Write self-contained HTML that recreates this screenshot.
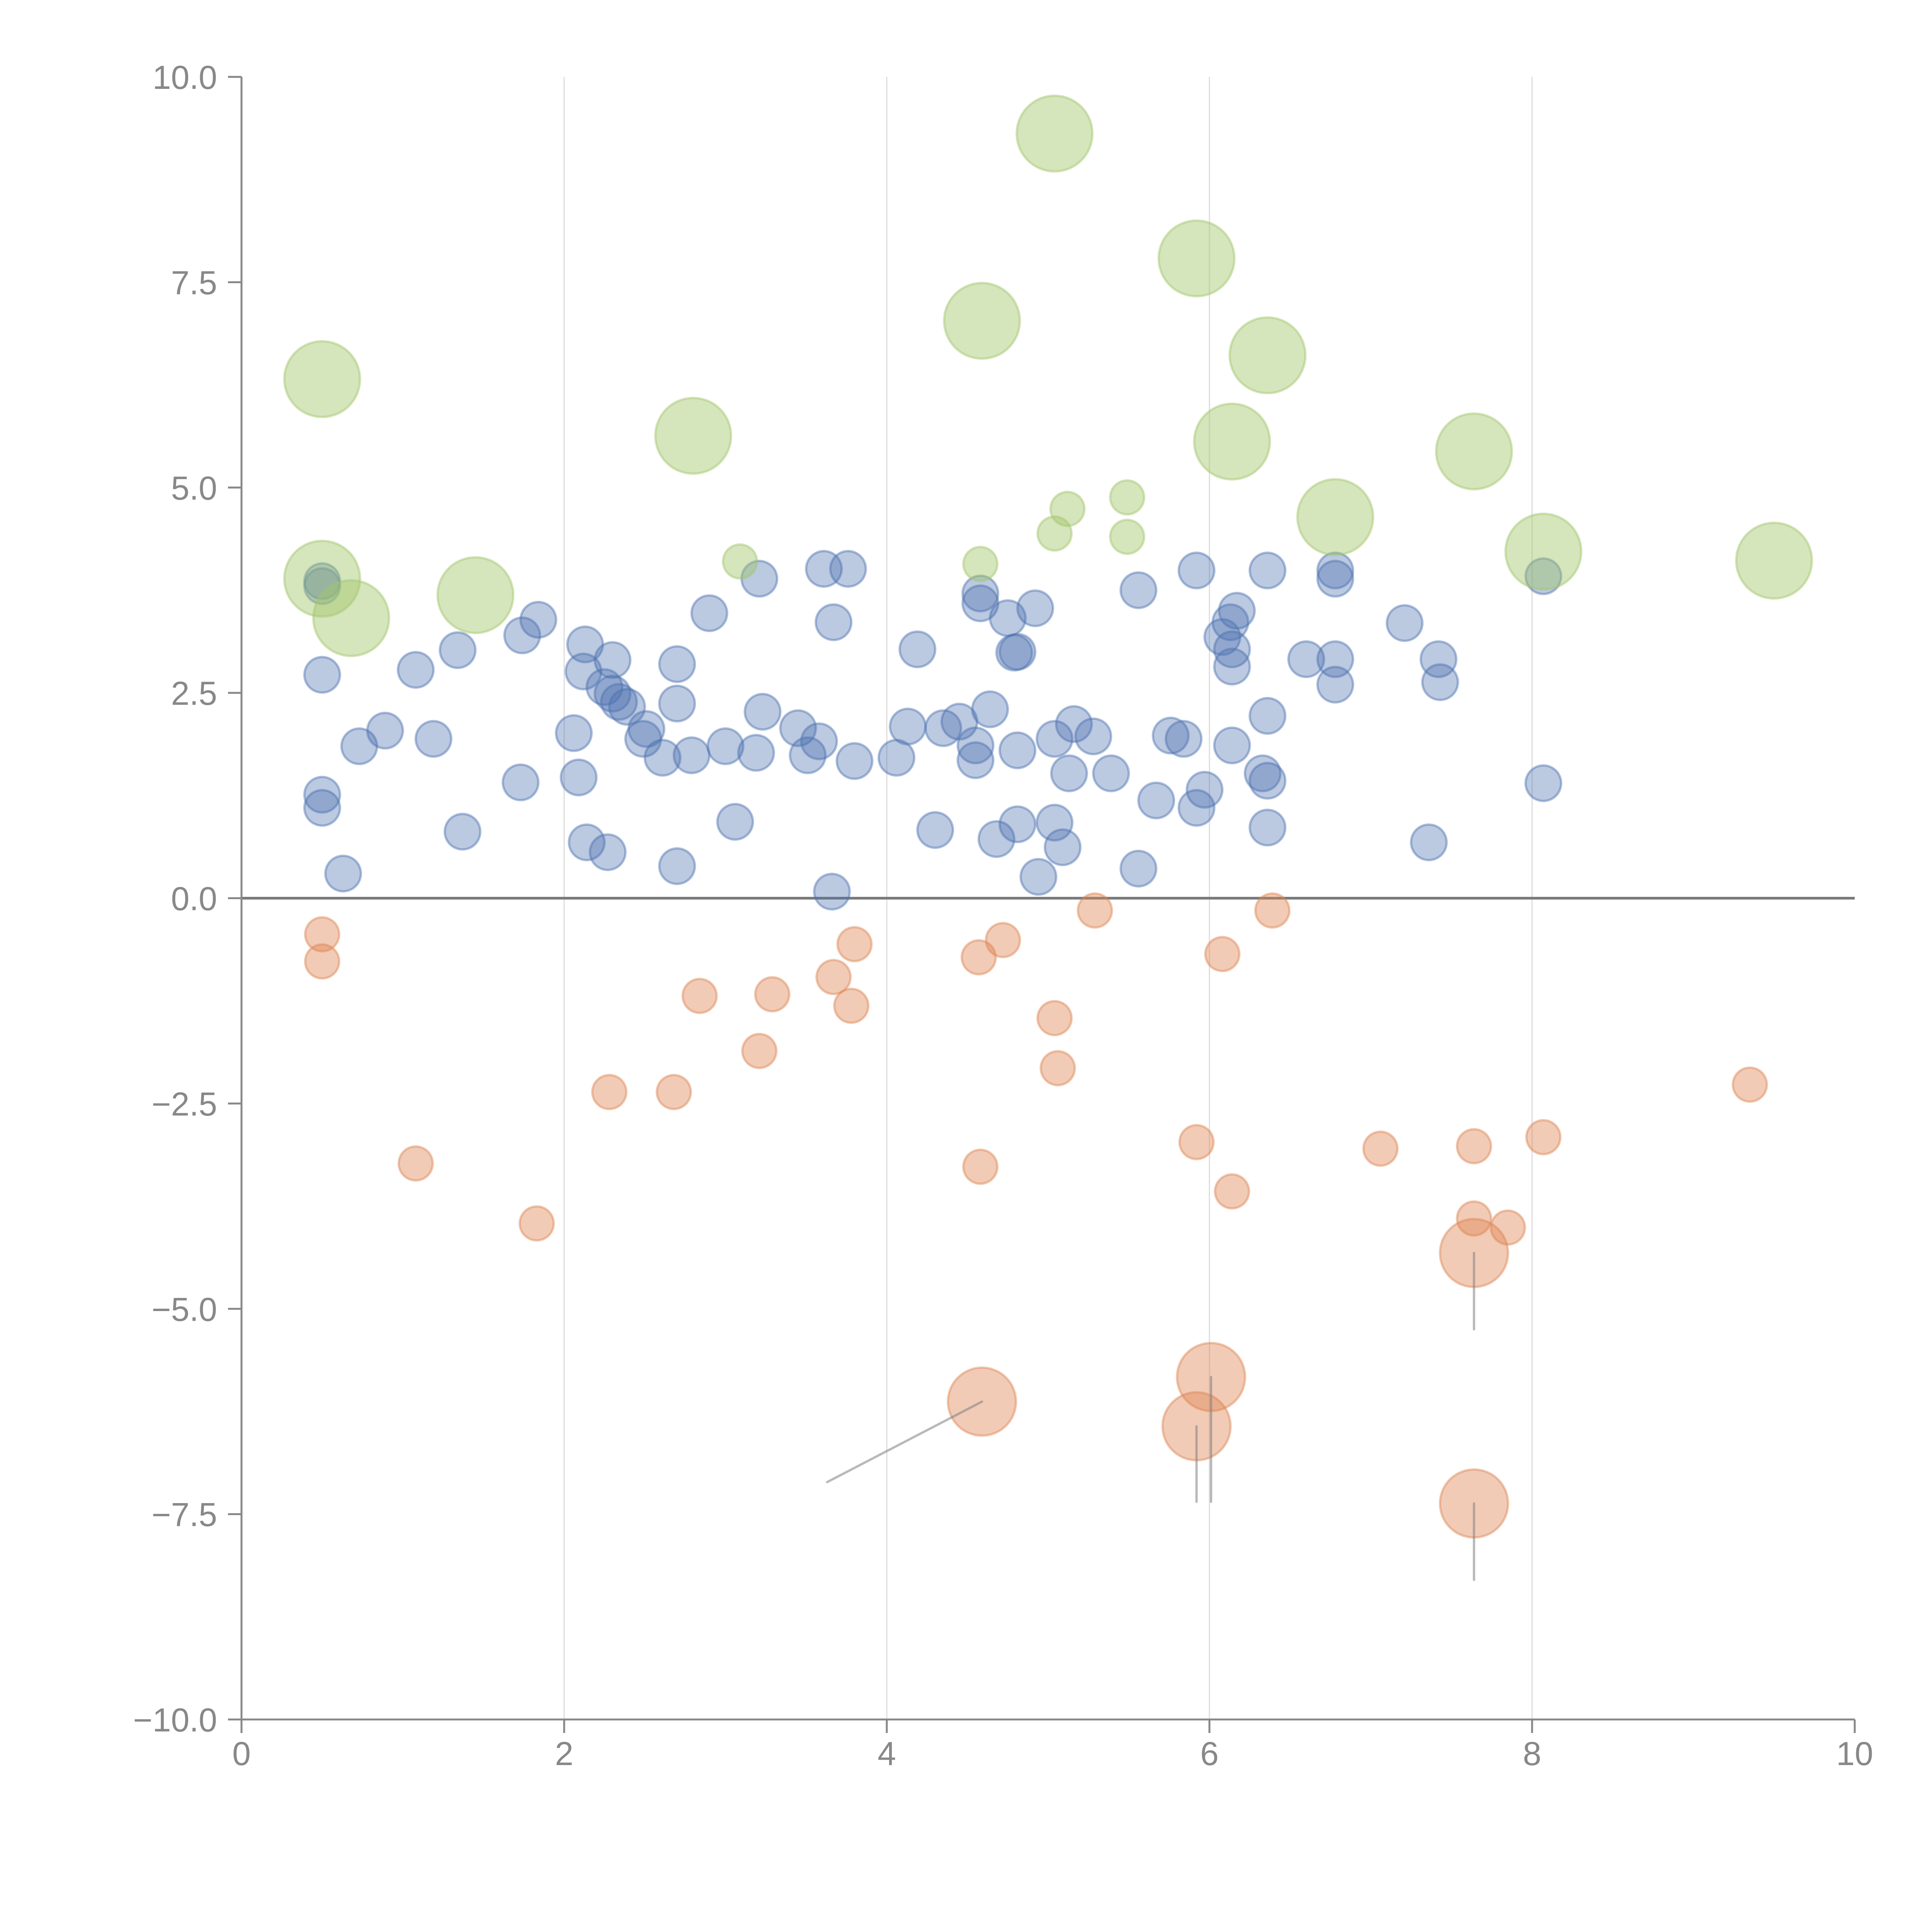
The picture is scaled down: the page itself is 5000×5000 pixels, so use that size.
<!DOCTYPE html>
<html><head><meta charset="utf-8"><style>
html,body{margin:0;padding:0;background:#fff;}
svg{display:block;font-family:"Liberation Sans",Arial,sans-serif;}
</style></head><body>
<svg id="chart" width="5000" height="5000" viewBox="0 0 5000 5000" xmlns="http://www.w3.org/2000/svg">
<g id="grid"></g>
<g id="marks"></g>
<g id="axes"></g>
</svg>
<script>
const xTicks=[0,2,4,6,8,10];
const xTickLabels=["0","2","4","6","8","10"];
const yTicks=[-10,-7.5,-5,-2.5,0,2.5,5,7.5,10];
const yTickLabels=["\u221210.0","\u22127.5","\u22125.0","\u22122.5","0.0","2.5","5.0","7.5","10.0"];

const blueX=[0.50,0.50,0.50,0.50,0.50,0.63,0.73,0.89,1.08,1.19,1.34,1.37,1.73,1.74,1.84,2.06,2.09,2.13,2.12,2.14,2.27,2.25,2.30,2.30,2.34,2.39,2.49,2.51,2.61,2.70,2.70,2.70,2.79,2.90,3.00,3.06,3.19,3.21,3.23,3.45,3.51,3.58,3.61,3.67,3.66,3.76,3.80,4.06,4.19,4.13,4.30,4.35,4.45,4.55,4.55,4.58,4.58,4.64,4.68,4.75,4.79,4.81,4.81,4.81,4.92,4.94,5.04,5.04,5.09,5.13,5.16,5.28,5.39,5.56,5.56,5.67,5.76,5.84,5.92,5.92,5.97,6.08,6.13,6.14,6.14,6.17,6.14,6.36,6.36,6.33,6.36,6.36,6.60,6.78,6.78,6.78,6.78,7.21,7.36,7.42,7.43,8.07,8.07];
const blueY=[3.86,3.80,2.72,1.26,1.10,0.30,1.85,2.04,2.78,1.94,3.02,0.81,1.41,3.20,3.39,2.01,1.47,3.09,2.76,0.68,0.56,2.57,2.90,2.49,2.39,2.33,1.94,2.06,1.71,2.85,2.37,0.39,1.74,3.47,1.85,0.93,1.77,3.89,2.27,2.07,1.74,1.91,4.01,3.36,0.08,4.01,1.67,1.71,3.03,2.09,0.83,2.07,2.15,1.86,1.68,3.71,3.59,2.30,0.72,3.41,2.99,3.00,1.80,0.90,3.53,0.26,1.94,0.92,0.62,1.52,2.12,1.97,1.52,3.75,0.36,1.19,1.98,1.94,3.99,1.10,1.32,3.18,3.36,3.03,2.82,3.50,1.86,3.99,2.22,1.52,1.43,0.86,2.91,3.99,3.89,2.91,2.60,3.35,0.68,2.91,2.63,3.92,1.40];

const orangeX=[0.50,0.50,1.08,1.83,2.28,2.68,2.84,3.21,3.29,3.67,3.78,3.80,4.57,4.72,4.58,5.04,5.06,5.29,5.92,6.08,6.14,6.39,7.06,7.64,7.64,7.85,8.07,9.35];
const orangeY=[-0.44,-0.77,-3.23,-3.96,-2.36,-2.36,-1.19,-1.86,-1.17,-0.96,-1.31,-0.56,-0.72,-0.51,-3.27,-1.46,-2.07,-0.15,-2.97,-0.68,-3.57,-0.15,-3.05,-3.02,-3.90,-4.01,-2.91,-2.27];
const orangeBigX=[4.59,6.01,5.92,7.64,7.64];
const orangeBigY=[-6.13,-5.83,-6.43,-4.32,-7.37];
const orangeBigLabelX=[3.63,6.01,5.92,7.64,7.64];
const orangeBigLabelY=[-7.11,-7.35,-7.35,-5.25,-8.30];

const greenX=[3.09,4.58,5.04,5.12,5.49,5.49];
const greenY=[4.10,4.07,4.44,4.74,4.88,4.40];
const greenBigX=[0.50,0.50,0.68,1.45,2.80,4.59,5.04,5.92,6.36,6.14,6.78,7.64,8.07,9.50];
const greenBigY=[6.32,3.89,3.41,3.69,5.63,7.03,9.31,7.79,6.61,5.56,4.64,5.44,4.22,4.11];

const NS="http://www.w3.org/2000/svg";
const X0=625,X1=4800,Y0=4450,Y1=199;
function sx(v){return X0+(v-0)/(10-0)*(X1-X0);}
function sy(v){return Y0-(v-(-10))/(20)*(Y0-Y1);}
function mk(tag,attrs,parent){const e=document.createElementNS(NS,tag);for(const k in attrs)e.setAttribute(k,attrs[k]);parent.appendChild(e);return e;}
const grid=document.getElementById('grid'),marks=document.getElementById('marks'),axes=document.getElementById('axes');

xTicks.forEach((t,i)=>{
  if(t>0&&t<10){
    const g=mk('line',{x1:sx(t),x2:sx(t),y1:sy(10),y2:sy(-10),stroke:'#dcdcdc','stroke-width':3},grid);
    
    
  }
});
const zl=mk('line',{x1:sx(0),x2:sx(10),y1:sy(0),y2:sy(0),stroke:'#7a7a7a','stroke-width':7},grid);



function dots(xs,ys,r,fill,stroke,name,op){
  xs.forEach((x,i)=>{
    const c=mk('circle',{cx:sx(x),cy:sy(ys[i]),r:r,fill:fill,'fill-opacity':op,stroke:stroke,'stroke-opacity':0.45,'stroke-width':6},marks);
    
    
  });
}
dots(blueX,blueY,46,'#4c72b0','#4c72b0','blue-point',0.38);
dots(orangeX,orangeY,44,'#dd8452','#dd8452','orange-point',0.42);
dots(greenX,greenY,44,'#a2c56a','#a2c56a','green-point',0.45);
dots(orangeBigX,orangeBigY,88,'#dd8452','#dd8452','orange-big-point',0.42);
dots(greenBigX,greenBigY,98,'#a2c56a','#a2c56a','green-big-point',0.45);

orangeBigX.forEach((x,i)=>{
  const l=mk('line',{x1:sx(x),y1:sy(orangeBigY[i]),x2:sx(orangeBigLabelX[i]),y2:sy(orangeBigLabelY[i]),stroke:'#808080','stroke-opacity':0.55,'stroke-width':6,'stroke-linecap':'round'},marks);
  
  
});

const ya=mk('line',{x1:X0,x2:X0,y1:Y1,y2:Y0,stroke:'#888','stroke-width':5},axes);


const xa=mk('line',{x1:X0,x2:X1,y1:Y0,y2:Y0,stroke:'#888','stroke-width':5},axes);



xTicks.forEach((t,i)=>{
  const tk=mk('line',{x1:sx(t),x2:sx(t),y1:Y0,y2:Y0+35,stroke:'#888','stroke-width':5},axes);
  
  
  const tx=mk('text',{x:sx(t),y:4568,'text-anchor':'middle','font-size':86,fill:'#888'},axes);
  tx.textContent=xTickLabels[i];
  
  
});
yTicks.forEach((t,i)=>{
  const tk=mk('line',{x1:X0-35,x2:X0,y1:sy(t),y2:sy(t),stroke:'#888','stroke-width':5},axes);
  
  
  const tx=mk('text',{x:562,y:sy(t)+31,'text-anchor':'end','font-size':86,fill:'#888'},axes);
  tx.textContent=yTickLabels[i];
  
  
});
</script>
</body></html>
